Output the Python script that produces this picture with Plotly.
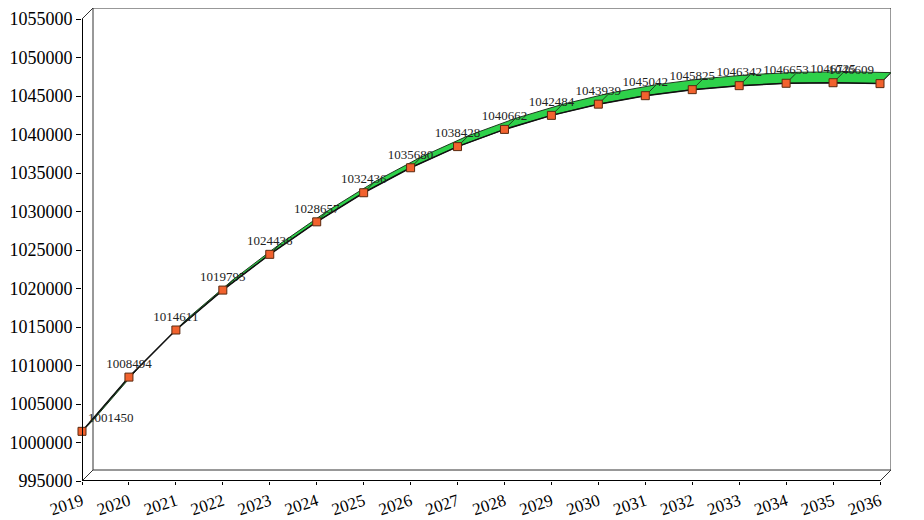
import plotly.graph_objects as go

# ---- data ----
years = list(range(2019, 2037))
values = [1001450, 1008494, 1014611, 1019795, 1024436, 1028657, 1032436,
          1035680, 1038428, 1040662, 1042484, 1043939, 1045042, 1045825,
          1046342, 1046653, 1046725, 1046609]
value_labels = [str(v) for v in values]
y_min, y_max, y_step = 995000, 1055000, 5000

# ---- layout / 3D depth styling ----
# the page body adds an 8px offset, so the figure is 8px smaller
W, H = 916, 512
ml, mr, mt, mb = 74, 33, 0, 39
depth_px = 11
plot_w = W - ml - mr
plot_h = H - mt - mb
front_w = plot_w - depth_px
front_h = plot_h - depth_px
x0, x1 = years[0], years[-1]
dx = depth_px * (x1 - x0) / front_w
dy = depth_px * (y_max - y_min) / front_h

# ribbon polygon
rib_x = years + [x + dx for x in years[::-1]]
rib_y = values + [v + dy for v in values[::-1]]

# joint lines between front and back edges
jx, jy = [], []
for x, v in zip(years, values):
    jx += [x, x + dx, None]
    jy += [v, v + dy, None]

fig = go.Figure()
fig.add_trace(go.Scatter(x=rib_x, y=rib_y, fill="toself", mode="lines",
                         fillcolor="#2ED14A", line=dict(color="#1f3a1f", width=1),
                         hoverinfo="skip", showlegend=False))
fig.add_trace(go.Scatter(x=jx, y=jy, mode="lines", line=dict(color="#1f3a1f", width=1),
                         hoverinfo="skip", showlegend=False))
positions = ["top center"] * len(years)
positions[0] = "top right"
positions[-1] = "top left"
fig.add_trace(go.Scatter(x=years, y=values, mode="lines+markers+text",
                         line=dict(color="#111111", width=1.5),
                         marker=dict(symbol="square", size=8, color="#F2622E",
                                     line=dict(color="#5a2a10", width=1)),
                         text=value_labels, textposition=positions,
                         textfont=dict(family="Liberation Serif", size=13, color="#222222"),
                         cliponaxis=False, showlegend=False))

frame = dict(color="#333333", width=1)
axis_line = dict(color="#000000", width=2)
shapes = [
    # back wall
    dict(type="rect", xref="x", yref="y", x0=x0 + dx, x1=x1 + dx, y0=y_min + dy, y1=y_max + dy,
         line=frame, layer="below"),
    # depth edges
    dict(type="line", xref="x", yref="y", x0=x0, y0=y_min, x1=x0 + dx, y1=y_min + dy, line=frame, layer="below"),
    dict(type="line", xref="x", yref="y", x0=x1, y0=y_min, x1=x1 + dx, y1=y_min + dy, line=frame, layer="below"),
    dict(type="line", xref="x", yref="y", x0=x0, y0=y_max, x1=x0 + dx, y1=y_max + dy, line=frame, layer="below"),
    # front axes
    dict(type="line", xref="x", yref="y", x0=x0, y0=y_min, x1=x1, y1=y_min, line=axis_line),
    dict(type="line", xref="x", yref="y", x0=x0, y0=y_min, x1=x0, y1=y_max, line=axis_line),
]

fig.update_layout(
    width=W, height=H,
    margin=dict(l=ml, r=mr, t=mt, b=mb),
    paper_bgcolor="white", plot_bgcolor="white",
    shapes=shapes,
    font=dict(family="Liberation Serif", color="#000000"),
    xaxis=dict(range=[x0, x1 + dx], tickmode="array", tickvals=years,
               ticktext=[str(y) for y in years], tickangle=-18,
               ticks="outside", ticklen=3, tickcolor="#000", showgrid=False,
               zeroline=False, showline=False, tickfont=dict(size=17),
               automargin=False),
    yaxis=dict(range=[y_min, y_max + dy], tickmode="linear", tick0=y_min, dtick=y_step,
               ticks="outside", ticklen=5, tickcolor="#000", showgrid=False,
               zeroline=False, showline=False, tickformat="d",
               tickfont=dict(size=18), automargin=False),
)

fig.write_html("out.html")
